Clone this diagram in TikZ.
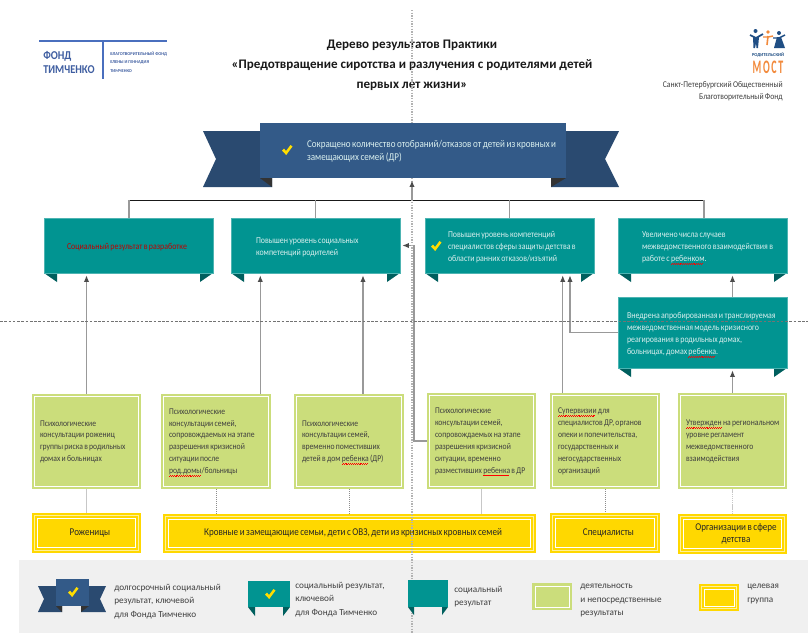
\documentclass[tikz,border=0pt]{standalone}
\usepackage{fontspec}
\setmainfont{Carlito}
\newfontfamily\bodyf{Carlito}[FakeStretch=0.87,WordSpace=0.75]
\usetikzlibrary{arrows.meta}
\definecolor{navy}{HTML}{335A88}
\definecolor{navydark}{HTML}{2A4A70}
\definecolor{tealbox}{HTML}{019491}
\definecolor{tealdark}{HTML}{005F5E}
\definecolor{actgreen}{HTML}{CBDD7B}
\definecolor{goldbox}{HTML}{FFD800}
\definecolor{goldpale}{HTML}{FFF09A}
\definecolor{legendbg}{HTML}{F0F0F0}
\definecolor{tealtext}{HTML}{D9EFEE}
\definecolor{inktext}{HTML}{3F3F3F}
\definecolor{logoblue}{HTML}{4A6FBE}
\definecolor{bridgeblue}{HTML}{1F4E84}
\definecolor{bridgeorange}{HTML}{F28A3C}
\definecolor{checkyellow}{HTML}{FFDD00}
\newcommand\spellmark[1]{\setbox0=\hbox{#1}\leavevmode\rlap{\color{red}\hbox to \wd0{\leaders\hbox{\rule[-1.9pt]{.7pt}{.3pt}\rule[-1.5pt]{.7pt}{.3pt}}\hfill}}\copy0\relax}
\newcommand\leftblock[4]{\makebox[#1][l]{\hspace*{#2}\vbox{\kern#3\hbox{\begin{tabular}{@{}l@{}}#4\end{tabular}}}}}
\newcommand\midblock[2]{\makebox[#1][c]{\hspace*{5.2pt}\begin{tabular}{@{}c@{}}#2\end{tabular}}}
\tikzset{
  x=0.75pt,y=-0.75pt,
  ribbontext/.style={font=\bodyf\fontsize{6.8}{9.2}\selectfont,text=tealtext,inner sep=0pt,anchor=center},
  acttext/.style={font=\bodyf\fontsize{6.6}{8.9}\selectfont,text=inktext,inner sep=0pt,anchor=center},
  targettext/.style={font=\bodyf\fontsize{7.8}{9.2}\selectfont,text=black!85,inner sep=0pt,anchor=center},
  legendtext/.style={font=\fontsize{6.9}{10}\selectfont,text=inktext,align=left,inner sep=0pt,anchor=north west},
  arrowline/.style={draw=black!40,line width=1.05pt,-{Latex[length=5pt,width=4pt,color=black!70]},shorten >=1.5pt},
  plainline/.style={draw=black!40,line width=1.05pt},
  bracket/.style={draw=black!90,line width=.7pt},
  softline/.style={draw=black!22,line width=1pt},
  dotline/.style={draw=black!45,line width=.5pt,densely dotted},
  guide/.style={draw=black!55,line width=.45pt,dash pattern=on 2pt off 1.2pt},
  guidev/.style={draw=black!30,line width=.8pt,dash pattern=on 1pt off 1pt},
}
% teal ribbon: name, x1, y1, x2, y2, left pad (px), text
\newcommand\tealribbon[7]{%
  \pgfmathsetlengthmacro\rw{(#4-#2)*0.75pt}%
  \pgfmathsetlengthmacro\rh{(#5-#3)*0.75pt}%
  \pgfmathsetlengthmacro\rp{#6*0.75pt}%
  \fill[tealdark] (#2,#5) -- (#2+13,#5) -- (#2+13,#5+9) -- cycle;
  \fill[tealdark] (#4,#5) -- (#4-13,#5) -- (#4-13,#5+9) -- cycle;
  \node[ribbontext,fill=tealbox,draw=tealbox!70!white,line width=.3pt,minimum height=\rh,minimum width=\rw]
    (#1) at ({(#2+#4)/2},{(#3+#5)/2}) {\leftblock{\rw}{\rp}{2.2pt}{#7}};
}
% activity box
\newcommand\actbox[7]{%
  \pgfmathsetlengthmacro\rw{(#4-#2)*0.75pt}%
  \pgfmathsetlengthmacro\rh{(#5-#3)*0.75pt}%
  \pgfmathsetlengthmacro\rp{#6*0.75pt}%
  \node[acttext,fill=actgreen,minimum height=\rh,minimum width=\rw]
    (#1) at ({(#2+#4)/2},{(#3+#5)/2}) {\leftblock{\rw}{\rp}{0pt}{#7}};
  \draw[white,line width=.75pt] ([shift={(3,3)}]#1.north west) rectangle ([shift={(-3,-3)}]#1.south east);
}
% target box
\newcommand\targetbox[6]{%
  \pgfmathsetlengthmacro\rw{(#4-#2)*0.75pt}%
  \pgfmathsetlengthmacro\rh{(#5-#3)*0.75pt}%
  \node[targettext,fill=goldbox,minimum height=\rh,minimum width=\rw]
    (#1) at ({(#2+#4)/2},{(#3+#5)/2}) {\midblock{\rw}{#6}};
  \draw[goldpale,line width=.6pt] ([shift={(2.5,2.5)}]#1.north west) rectangle ([shift={(-2.5,-2.5)}]#1.south east);
  \draw[white,line width=.6pt] ([shift={(6,6)}]#1.north west) rectangle ([shift={(-6,-6)}]#1.south east);
}
% check mark
\newcommand\chk[2]{%
  \fill[checkyellow] (#1-5,#2+0.5) -- (#1-3,#2-1.5) -- (#1-1,#2+1) -- (#1+3.5,#2-5) -- (#1+5.5,#2-3.5) -- (#1-0.8,#2+5) -- cycle;
}
\begin{document}
\begin{tikzpicture}
\useasboundingbox (0,0) rectangle (808,633);
\fill[white] (0,0) rectangle (808,633);

% legend background
\fill[legendbg] (19,560) rectangle (808,633);

% Timchenko logo
\draw[logoblue,line width=.9pt] (39,41) -- (167,41);
\draw[logoblue,line width=.9pt] (103,41) -- (103,79);
\node[font=\bodyf\fontsize{9}{10.5}\selectfont\bfseries,text=logoblue!85!black,align=left,inner sep=0pt,anchor=west] (timlogo) at (43,62) {ФОНД\\ТИМЧЕНКО};
\node[font=\fontsize{3.3}{6.2}\selectfont\bfseries,text=logoblue!85!black,align=left,inner sep=0pt,anchor=west] (timsub) at (110,62) {БЛАГОТВОРИТЕЛЬНЫЙ ФОНД\\ЕЛЕНЫ И ГЕННАДИЯ\\ТИМЧЕНКО};

% title
\node[font=\fontsize{9.8}{15.2}\selectfont\bfseries,text=black!90,align=center,inner sep=0pt] (title) at (412,65.5) {Дерево результатов Практики\\«Предотвращение сиротства и разлучения с родителями детей\\первых лет жизни»};

% Rodmost logo
\fill[bridgeblue] (755.5,31) circle (2);
\draw[bridgeblue,line width=1.3pt] (750,35) -- (756,38) -- (763,34);
\fill[bridgeblue] (753,37) -- (759,37) -- (758,48) -- (756.5,48) -- (756,43) -- (755,48) -- (753.5,48) -- cycle;
\fill[bridgeorange] (768,32) circle (1.8);
\draw[bridgeorange,line width=1.1pt] (763,37) -- (768,37) -- (773,36);
\draw[bridgeorange,line width=1.2pt] (768,36) -- (767,45);
\fill[bridgeblue] (779,33) circle (2);
\draw[bridgeblue,line width=1.1pt] (773,38) -- (779,38) -- (785,35);
\fill[bridgeblue] (777,37) -- (781,37) -- (785,48) -- (774,48) -- cycle;
\node[font=\fontsize{3.4}{4}\selectfont\bfseries,text=bridgeblue,inner sep=0pt] (bridgetop) at (768,55) {РОДИТЕЛЬСКИЙ};
\node[font=\fontsize{11}{12}\selectfont\bfseries,text=bridgeorange,inner sep=0pt] (bridgename) at (768,67) {\scalebox{.68}[1.3]{М\,О\,С\,Т}};
\node[font=\bodyf\fontsize{6.6}{8.8}\selectfont,text=inktext,align=right,inner sep=0pt,anchor=east] (bridgecap) at (783,91) {Санкт-Петербургский Общественный\\Благотворительный Фонд};

% connector bracket
\coordinate (busA) at (129,200);
\coordinate (busB) at (704,200);

% top banner tails
\fill[navydark] (203,131) -- (272,131) -- (272,187) -- (203,187) -- (216,159) -- cycle;
\fill[navydark] (551,131) -- (619,131) -- (605,159) -- (619,187) -- (551,187) -- cycle;
\fill[black!80] (260,178) -- (272,178) -- (272,187) -- cycle;
\fill[black!80] (566,178) -- (551,178) -- (551,187) -- cycle;
\pgfmathsetlengthmacro\topw{306*0.75pt}
\pgfmathsetlengthmacro\toph{55*0.75pt}
\pgfmathsetlengthmacro\topp{47*0.75pt}
\node[ribbontext,fill=navy,minimum height=\toph,minimum width=\topw] (goal) at (413,150.5)
  {\fontsize{7.8}{9.6}\selectfont\leftblock{\topw}{\topp}{1.5pt}{Сокращено количество отобраний/отказов от детей из кровных и\\замещающих семей (ДР)}};
\chk{287}{150}

% second level
\tealribbon{res1}{44}{218}{213}{273}{23}{\textcolor{red!75!black}{Социальный результат в разработке}}
\tealribbon{res2}{231}{218}{400}{273}{25}{Повышен уровень социальных\\компетенций родителей}
\tealribbon{res3}{425}{218}{594}{273}{23}{Повышен уровень компетенций\\специалистов сферы защиты детства в\\области ранних отказов/изъятий}
\tealribbon{res4}{618}{218}{787}{273}{24}{Увеличено числа случаев\\межведомственного взаимодействия в\\работе с \spellmark{ребенком}.}
\chk{436}{246}
\tealribbon{model}{618}{297}{787}{368}{9}{Внедрена апробированная и транслируемая\\межведомственная модель кризисного\\реагирования в родильных домах,\\больницах, домах \spellmark{ребенка}.}

% activities
\actbox{act1}{32}{394}{141}{489}{8}{Психологические\\консультации рожениц\\группы риска в родильных\\домах и больницах}
\actbox{act2}{161}{394}{271}{489}{8}{Психологические\\консультации семей,\\сопровождаемых на этапе\\разрешения кризисной\\ситуации после\\\spellmark{род.домы}/больницы}
\actbox{act3}{294}{394}{404}{489}{8}{Психологические\\консультации семей,\\временно поместивших\\детей в дом \spellmark{ребенка} (ДР)}
\actbox{act4}{427}{393}{536}{489}{8}{Психологические\\консультации семей,\\сопровождаемых на этапе\\разрешения кризисной\\ситуации, временно\\разместивших \spellmark{ребенка} в ДР}
\actbox{act5}{550}{393}{660}{489}{8}{\spellmark{Супервизии} для\\специалистов ДР, органов\\опеки и попечительства,\\государственных и\\негосударственных\\организаций}
\actbox{act6}{678}{393}{787}{489}{8}{\spellmark{Утвержден} на региональном\\уровне регламент\\межведомственного\\взаимодействия}

% targets
\targetbox{tg1}{32}{513}{141}{553}{Роженицы}
\targetbox{tg2}{163}{514}{536}{553}{Кровные и замещающие семьи, дети с ОВЗ, дети из кризисных кровных семей}
\targetbox{tg3}{550}{513}{660}{553}{Специалисты}
\targetbox{tg4}{678}{514}{787}{554}{Организации в сфере\\детства}

% connectors: bracket
\draw[bracket] (busA) -- (busB);
\draw[plainline] (busA) -- (res1.north -| busA);
\draw[plainline] (res2.north) -- (res2.north |- busA);
\draw[plainline] (res3.north) -- (res3.north |- busA);
\draw[plainline] (busB) -- (res4.north -| busB);

% connectors: up
\draw[arrowline] (act1.north) -- (act1.north |- res1.south);
\coordinate (up2) at ([xshift=-11*0.75pt]act2.north east);
\draw[arrowline] (up2) -- (up2 |- res2.south);
\coordinate (up3) at ([xshift=14*0.75pt]act3.north);
\draw[arrowline] (up3) -- (up3 |- res2.south);
\coordinate (junc4) at (414,300);
\draw[arrowline] (act4.west) -- (junc4 |- act4.west) -- (junc4 |- res2.east) -- (res2.east);
\coordinate (up5) at ([xshift=13*0.75pt]act5.north west);
\draw[arrowline] (up5) -- (up5 |- res3.south);
\coordinate (junc5) at (570,300);
\draw[arrowline] (model.west) -- (junc5 |- model.west) -- (junc5 |- res3.south);
\draw[arrowline] (act6.north) -- (act6.north |- model.south);
\draw[arrowline] (act6.north |- model.north) -- (act6.north |- res4.south);

% connectors: down to target groups
\draw[softline] (act1.south) -- (act1.south |- tg1.north);
\draw[dotline] (act2.south) -- (act2.south |- tg2.north);
\draw[dotline] (act3.south) -- (act3.south |- tg2.north);
\draw[softline] (act4.south) -- (act4.south |- tg2.north);
\draw[dotline] (act5.south) -- (act5.south |- tg3.north);
\draw[softline,dash pattern=on 1pt off .6pt] (act6.south) -- (act6.south |- tg4.north);

% guides
\draw[guide] (0,321) -- (808,321);
\draw[guidev] (412,10) -- (412,123);
\draw[guidev] (412,178) -- (412,633);
\draw[arrowline] (412,200) -- (goal.south -| 412,0);

% legend
\fill[navydark] (38,586) -- (62,586) -- (62,612) -- (38,612) -- (44,599) -- cycle;
\fill[navydark] (81,586) -- (106,586) -- (100,599) -- (106,612) -- (81,612) -- cycle;
\fill[black!80] (56,606) -- (62,606) -- (62,612) -- cycle;
\fill[black!80] (89,606) -- (81,606) -- (81,612) -- cycle;
\fill[navy] (56,579) rectangle (89,606);
\chk{73}{592}
\node[legendtext] (leg1) at (114,584) {долгосрочный социальный\\результат, ключевой\\для Фонда Тимченко};

\fill[tealdark] (248,607) -- (255,607) -- (255,616) -- cycle;
\fill[tealdark] (290,607) -- (283,607) -- (283,616) -- cycle;
\fill[tealbox] (248,581) rectangle (290,607);
\chk{270}{594}
\node[legendtext] (leg2) at (295,582) {социальный результат,\\ключевой\\для Фонда Тимченко};

\fill[tealdark] (408,607) -- (414,607) -- (414,615) -- cycle;
\fill[tealdark] (448,607) -- (442,607) -- (442,615) -- cycle;
\fill[tealbox] (408,580) rectangle (448,607);
\node[legendtext] (leg3) at (454,586) {социальный\\результат};

\fill[actgreen] (532,583) rectangle (572,610);
\draw[white,line width=.7pt] (535,586) rectangle (569,607);
\node[legendtext] (leg4) at (580,584) {деятельность\\и непосредственные\\результаты};

\fill[goldbox] (699,584) rectangle (739,611);
\draw[goldpale,line width=.5pt] (701.5,586.5) rectangle (736.5,608.5);
\draw[white,line width=.5pt] (704,589) rectangle (734,606);
\node[legendtext] (leg5) at (747,584) {целевая\\группа};
\end{tikzpicture}
\end{document}
